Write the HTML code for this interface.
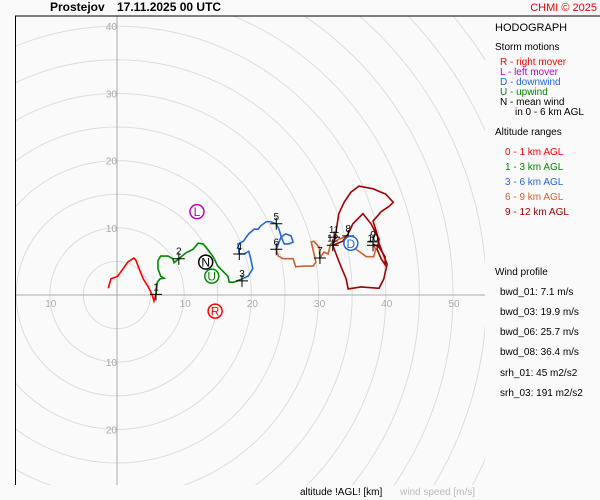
<!DOCTYPE html>
<html><head><meta charset="utf-8"><style>
html,body{margin:0;padding:0;width:600px;height:500px;overflow:hidden;background:#fff;}
svg{display:block;font-family:"Liberation Sans",sans-serif;}
</style></head><body>
<svg id="chart" width="600" height="500" viewBox="0 0 600 500">
<rect x="0" y="0" width="600" height="500" fill="#fafafa"/>
<defs><clipPath id="pc"><rect x="15" y="16" width="470" height="469"/></clipPath></defs>
<g id="rings" clip-path="url(#pc)"></g>
<line x1="117" y1="16" x2="117" y2="485" stroke="#aaa"/>
<line x1="15" y1="295" x2="485" y2="295" stroke="#aaa"/>
<g id="ticks" font-size="10" fill="#aaa"></g>
<g id="series" clip-path="url(#pc)"></g>
<g id="marks" font-size="10"></g>
<g id="storm"></g>
<line x1="15" y1="16" x2="600" y2="16" stroke="#000" stroke-width="1"/>
<line x1="15.5" y1="16" x2="15.5" y2="485" stroke="#000" stroke-width="1"/>
<text x="50" y="11" font-size="12" font-weight="bold">Prostejov</text>
<text x="117" y="11" font-size="12" font-weight="bold">17.11.2025 00 UTC</text>
<text x="597" y="11" font-size="11" fill="#e00" text-anchor="end">CHMI © 2025</text>
<g font-size="11">
<text x="495" y="31" font-size="11">HODOGRAPH</text>
<text x="495" y="50" font-size="10">Storm motions</text>
<text x="500" y="65" fill="#f00" font-size="10">R - right mover</text>
<text x="500" y="75" fill="#b0b" font-size="10">L - left mover</text>
<text x="500" y="85" fill="#2266dd" font-size="10">D - downwind</text>
<text x="500" y="95" fill="#080" font-size="10">U - upwind</text>
<text x="500" y="105" font-size="10">N - mean wind</text>
<text x="515" y="115" font-size="10">in 0 - 6 km AGL</text>
<text x="495" y="135" font-size="10">Altitude ranges</text>
<text x="505" y="155" fill="#f00" font-size="10">0 - 1 km AGL</text>
<text x="505" y="170" fill="#080" font-size="10">1 - 3 km AGL</text>
<text x="505" y="185" fill="#2266dd" font-size="10">3 - 6 km AGL</text>
<text x="505" y="200" fill="#d06030" font-size="10">6 - 9 km AGL</text>
<text x="505" y="215" fill="#a00000" font-size="10">9 - 12 km AGL</text>
<text x="495" y="275" font-size="10">Wind profile</text>
<text x="500" y="295" font-size="10">bwd_01: 7.1 m/s</text>
<text x="500" y="315" font-size="10">bwd_03: 19.9 m/s</text>
<text x="500" y="335" font-size="10">bwd_06: 25.7 m/s</text>
<text x="500" y="355" font-size="10">bwd_08: 36.4 m/s</text>
<text x="500" y="376" font-size="10">srh_01: 45 m2/s2</text>
<text x="500" y="396" font-size="10">srh_03: 191 m2/s2</text>
</g>
<text x="300" y="495" font-size="10">altitude !AGL! [km]</text>
<text x="400" y="495" font-size="10" fill="#bbb">wind speed [m/s]</text>
</svg>
<script>
const ringSpeeds=[5,10,15,20,25,30,35,40,45,50,55,60,65,70,75];
const uTicks=[-10,10,20,30,40,50];
const vTicks=[10,20,30,40,-10,-20];
const seg01U=[-1.3,-0.9,0.1,0.9,1.6,2.5,2.8,3.3,3.9,4.6,5.2,5.5,5.8];
const seg01V=[1.0,2.4,2.8,3.9,4.9,5.5,5.2,3.9,2.4,1.3,0.1,-0.9,0.1];
const seg13U=[5.8,6.0,6.4,7.0,6.5,6.1,6.1,6.5,7.6,8.3,8.5,9.2,10.3,11.3,12.1,12.8,13.5,14.3,15.0,15.9,16.5,16.7,17.4,18.6];
const seg13V=[0.1,1.9,2.4,2.5,2.8,3.9,5.1,5.8,5.8,5.4,4.8,5.4,6.3,6.8,7.7,7.6,6.8,5.7,4.3,3.4,2.8,1.9,1.9,2.4];
const seg36U=[18.6,19.5,20.2,19.9,19.6,18.9,18.2,18.0,18.8,19.6,20.4,21.0,21.4,22.2,22.9,23.7,24.1,24.4,24.7,24.9,25.6,26.2,25.9,25.1,24.4,24.0,23.7];
const seg36V=[2.4,2.8,3.9,5.4,6.5,6.1,6.1,7.6,8.0,9.1,9.8,9.8,10.3,10.9,10.9,10.6,9.8,8.8,8.0,7.6,7.6,7.9,8.8,9.1,8.6,7.6,6.8];
const seg69U=[23.7,24.0,24.7,26.2,26.6,27.8,29.2,29.6,28.9,29.3,30.1,30.2,30.8,31.4,31.8,33.0,34.4,35.6,37.1,38.2,38.5,38.1];
const seg69V=[6.8,5.8,5.4,5.4,4.2,4.3,4.3,4.9,7.9,8.0,7.1,5.5,6.4,6.1,7.6,8.3,8.8,6.8,5.7,5.7,6.8,7.6];
const seg912U=[38.1,39.0,39.9,39.9,39.3,38.7,39.0,37.8,36.6,35.1,34.4,33.6,32.1,32.6,33.3,34.1,34.4,36.3,39.0,39.7,40.2,39.6,39.0,38.7,38.1,39.3,40.5,41.1,40.0,38.1,36.0,34.8,33.8,33.0,32.7,32.4,32.1];
const seg912V=[7.6,7.1,5.7,4.5,5.4,6.8,8.3,10.6,12.1,10.6,9.1,8.0,7.4,6.1,4.3,2.4,0.9,1.2,1.0,2.4,4.6,6.1,7.6,9.1,11.0,12.4,13.2,13.8,15.0,15.8,16.2,15.3,13.8,12.1,10.1,8.3,7.4];
const markLabels=["1","2","3","4","5","6","7","8","9","10","11","12"];
const markU=[5.8,9.2,18.6,18.2,23.7,23.7,30.2,34.4,38.1,38.1,32.3,32.1];
const markV=[0.1,5.4,2.1,6.1,10.6,6.8,5.5,8.8,7.9,7.4,8.6,7.4];
const stormLabels=["L","N","U","D","R"];
const stormU=[11.9,13.2,14.1,34.8,14.6];
const stormV=[12.4,4.9,2.8,7.7,-2.4];
const stormColors=["#b0b","#000","#080","#2266dd","#f00"];

const NS="http://www.w3.org/2000/svg";
const X0=117,Y0=295,K=6.72;
const sx=u=>X0+u*K, sy=v=>Y0-v*K;
function mk(tag,parent){const e=document.createElementNS(NS,tag);parent.appendChild(e);return e;}
const rings=document.getElementById('rings');
ringSpeeds.forEach(s=>{
 const c=mk('circle',rings);
 
 
 c.setAttribute('cx',X0);c.setAttribute('cy',Y0);c.setAttribute('r',s*K);
 c.setAttribute('fill','none');c.setAttribute('stroke','#ddd');c.setAttribute('stroke-width','1');
});
const ticks=document.getElementById('ticks');
uTicks.forEach(t=>{
 const e=mk('text',ticks);
 
 
 e.setAttribute('x',sx(t)+1);e.setAttribute('y',Y0+12);e.setAttribute('text-anchor','middle');
 e.textContent=Math.abs(t);
});
vTicks.forEach(t=>{
 const e=mk('text',ticks);
 
 
 e.setAttribute('x',X0);e.setAttribute('y',sy(t)+4);e.setAttribute('text-anchor','end');
 e.textContent=Math.abs(t);
});
const series=document.getElementById('series');
[[seg01U,seg01V,'#f00','segment-0-1km'],[seg13U,seg13V,'#080','segment-1-3km'],[seg36U,seg36V,'#2266dd','segment-3-6km'],[seg69U,seg69V,'#d06030','segment-6-9km'],[seg912U,seg912V,'#a00000','segment-9-12km']].forEach(([U,V,col,name])=>{
 const p=mk('polyline',series);
 
 
 p.setAttribute('points',U.map((u,i)=>sx(u)+','+sy(V[i])).join(' '));
 p.setAttribute('fill','none');p.setAttribute('stroke',col);p.setAttribute('stroke-width','1.6');
});
const marks=document.getElementById('marks');
markLabels.forEach((l,i)=>{
 const x=sx(markU[i]),y=sy(markV[i]);
 const p=mk('path',marks);
 
 
 p.setAttribute('d',`M${x-6},${y}H${x+6}M${x},${y-6}V${y+6}`);
 p.setAttribute('stroke','#000');p.setAttribute('stroke-width','1');
 const t=mk('text',marks);
 
 
 t.setAttribute('x',x);t.setAttribute('y',y-4);t.setAttribute('text-anchor','middle');
 t.textContent=l;
});
const storm=document.getElementById('storm');
stormLabels.forEach((l,i)=>{
 const x=sx(stormU[i]),y=sy(stormV[i]);
 const c=mk('circle',storm);
 
 
 c.setAttribute('cx',x);c.setAttribute('cy',y);c.setAttribute('r',7);
 c.setAttribute('fill','#fff');c.setAttribute('stroke',stormColors[i]);c.setAttribute('stroke-width','1.5');
 const t=mk('text',storm);
 
 
 t.setAttribute('x',x);t.setAttribute('y',y+4.5);t.setAttribute('text-anchor','middle');
 t.setAttribute('font-size','12');t.setAttribute('fill',stormColors[i]);
 t.textContent=l;
});
</script>
</body></html>
